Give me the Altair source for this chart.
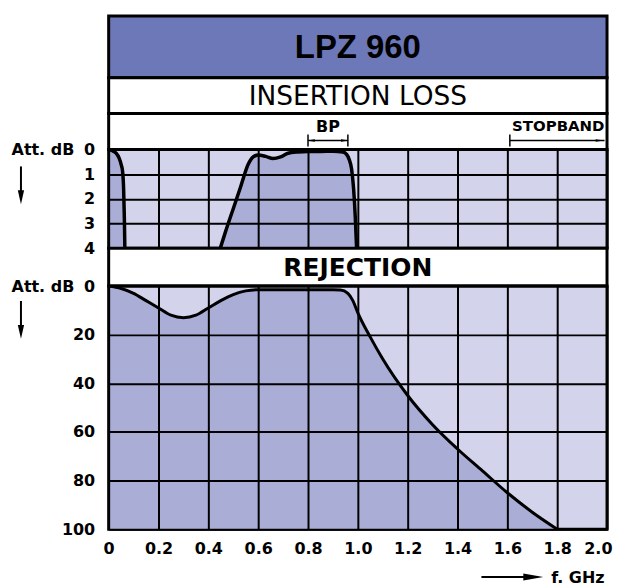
import altair as alt
import pandas as pd

FONT = "DejaVu Sans"
TFONT = "Liberation Sans"

title_text = ["LPZ 960"]
il_text = ["INSERTION LOSS"]
rej_text = ["REJECTION"]
bp_text = ["BP"]
stop_text = ["STOPBAND"]

# Annotation frequencies (GHz)
bp_range = [0.80, 0.96]
stop_range = [1.61, 1.99]

# Axis ticks
x_ticks = [0, 0.2, 0.4, 0.6, 0.8, 1.0, 1.2, 1.4, 1.6, 1.8, 2.0]
il_ticks = [0, 1, 2, 3, 4]
rej_ticks = [0, 20, 40, 60, 80, 100]

# Insertion loss (dB), two visible segments
il_low_f = [0, 0.015, 0.03, 0.042, 0.05, 0.056, 0.06, 0.063, 0.065]
il_low_db = [0, 0.05, 0.15, 0.35, 0.6, 0.9, 1.6, 2.8, 4.0]
il_bp_f = [0.448, 0.47, 0.5, 0.53, 0.56, 0.58, 0.6, 0.63, 0.66, 0.69, 0.72, 0.76,
           0.8, 0.85, 0.9, 0.94, 0.955, 0.965, 0.975, 0.983, 0.99, 0.995]
il_bp_db = [4.0, 3.3, 2.4, 1.5, 0.6, 0.3, 0.22, 0.28, 0.37, 0.3, 0.15, 0.1,
            0.08, 0.08, 0.07, 0.1, 0.2, 0.4, 0.8, 1.6, 2.8, 4.0]

# Rejection (dB)
rej_f = [0, 0.05, 0.1, 0.15, 0.2, 0.25, 0.3, 0.35, 0.4, 0.45, 0.5, 0.55, 0.6, 0.7,
         0.8, 0.9, 0.93, 0.96, 0.98, 1.0, 1.05, 1.1, 1.2, 1.3, 1.4, 1.5, 1.6, 1.7, 1.8]
rej_db = [0, 1, 3, 6, 9, 12, 13, 12, 9, 6, 3.5, 2, 1.5, 1.5,
          1.5, 1.5, 1.6, 3, 6, 11, 21, 30, 45, 57, 67, 76, 85, 93, 100]

DARK = "#aaaed7"
LIGHT = "#d3d4ec"
TITLE_BG = "#6c78b8"
W = 500
XT_Y = 48  # offset of the frequency-axis caption below the plot

il_df = pd.DataFrame({
    "f": il_low_f + il_bp_f,
    "dB": il_low_db + il_bp_db,
    "seg": ["a"] * len(il_low_f) + ["b"] * len(il_bp_f),
})
rej_df = pd.DataFrame({"f": rej_f, "dB": rej_db})
one = pd.DataFrame({"k": [0]})

xscale = alt.Scale(domain=[0, 2], nice=False)
frame = dict(stroke="black", strokeWidth=3)


def band(label, h, y, size, weight, font, fill="white", color="black"):
    return alt.Chart(pd.DataFrame({"t": label})).mark_text(
        font=font, fontSize=size, fontWeight=weight, color=color,
        align="center", baseline="middle"
    ).encode(
        text="t:N", x=alt.value(W / 2), y=alt.value(y)
    ).properties(width=W, height=h, view=alt.ViewBackground(fill=fill, **frame))


title_panel = band(title_text, 62, 32, 33, "bold", TFONT, fill=TITLE_BG)
il_label_panel = band(il_text, 36, 19, 26.5, "normal", FONT)
rej_label_panel = band(rej_text, 38, 20, 25, "bold", FONT)

# BP / STOPBAND annotation band
bp_df = pd.DataFrame({"f": [sum(bp_range) / 2], "t": bp_text})
stop_df = pd.DataFrame({"f": [stop_range[1]], "t": stop_text})
bp_txt = alt.Chart(bp_df).mark_text(font=FONT, fontSize=16, fontWeight="bold",
                                    baseline="middle").encode(
    x=alt.X("f:Q", scale=xscale, axis=None), y=alt.value(13), text="t:N")
stop_txt = alt.Chart(stop_df).mark_text(font=FONT, fontSize=15, fontWeight="bold",
                                        align="right", baseline="middle").encode(
    x=alt.X("f:Q", scale=xscale, axis=None), y=alt.value(12), text="t:N")
arrows_df = pd.DataFrame({"f1": [bp_range[0], stop_range[0]],
                          "f2": [bp_range[1], stop_range[1]]})
arrow_lines = alt.Chart(arrows_df).mark_rule(color="black", strokeWidth=1.5).encode(
    x=alt.X("f1:Q", scale=xscale, axis=None), x2="f2:Q", y=alt.value(27))
bars_df = pd.DataFrame({"f": [bp_range[0], bp_range[1], stop_range[0]]})
arrow_bars = alt.Chart(bars_df).mark_rule(color="black", strokeWidth=1.5).encode(
    x=alt.X("f:Q", scale=xscale, axis=None), y=alt.value(21), y2=alt.value(33))
heads_df = pd.DataFrame({"f": [bp_range[0] + 0.012, bp_range[1] - 0.012, stop_range[1] - 0.02],
                         "s": ["l", "r", "r"]})
arrow_heads = alt.Chart(heads_df).mark_point(filled=True, color="black", opacity=1,
                                             size=60).encode(
    x=alt.X("f:Q", scale=xscale, axis=None), y=alt.value(27),
    shape=alt.Shape("s:N", scale=alt.Scale(domain=["l", "r"],
                    range=["M-1,0L1,-0.35L1,0.35Z", "M1,0L-1,-0.35L-1,0.35Z"]),
                    legend=None))
bp_panel = alt.layer(bp_txt, stop_txt, arrow_lines, arrow_bars, arrow_heads).properties(
    width=W, height=36, view=alt.ViewBackground(fill="white", **frame))

axis_common = dict(grid=True, gridColor="black", gridWidth=2, gridOpacity=1,
                   ticks=False, domain=False, zindex=1, labelOverlap=False,
                   labelFont=FONT, labelFontSize=16, labelFontWeight="bold",
                   labelColor="black")
ytitle = dict(title="Att. dB", titleAngle=0, titleAlign="right", titleBaseline="middle",
              titleX=-35, titleY=0, titleFont=FONT, titleFontSize=16,
              titleFontWeight="bold", titleColor="black")


def down_arrow(y1, y2):
    line = alt.Chart(one).mark_rule(color="black", strokeWidth=2).encode(
        x=alt.value(-88), y=alt.value(y1), y2=alt.value(y2))
    head = alt.Chart(one).mark_point(filled=True, color="black", opacity=1,
                                     shape="M-0.45,-1L0.45,-1L0,1Z", size=196).encode(
        x=alt.value(-88), y=alt.value(y2))
    return [line, head]


# Insertion loss plot
il_x = alt.X("f:Q", scale=xscale,
             axis=alt.Axis(values=x_ticks, tickCount=len(x_ticks), labels=False,
                           title=None, **axis_common))
il_y = alt.Y("dB:Q", scale=alt.Scale(domain=[0, 4], reverse=True, nice=False),
             axis=alt.Axis(values=il_ticks, tickCount=len(il_ticks), labelPadding=14,
                           **ytitle, **axis_common))
il_area = alt.Chart(il_df).mark_area(color=DARK, opacity=1, interpolate="monotone",
                                     clip=True).encode(
    x=il_x, y=il_y, y2=alt.datum(4), detail="seg:N")
il_line = alt.Chart(il_df).mark_line(color="black", strokeWidth=3.5,
                                     interpolate="monotone", clip=True).encode(
    x="f:Q", y="dB:Q", detail="seg:N")
il_panel = alt.layer(il_area, il_line, *down_arrow(17, 48)).properties(
    width=W, height=99, view=alt.ViewBackground(fill=LIGHT, **frame))

# Rejection plot
last_tick = "datum.value >= 2"
rej_x = alt.X("f:Q", scale=xscale,
              axis=alt.Axis(values=x_ticks, tickCount=len(x_ticks), labelPadding=11,
                            labelFlush=False,
                            labelAlign={"condition": {"test": last_tick, "value": "right"},
                                        "value": "center"},
                            labelOffset={"condition": {"test": last_tick, "value": 5},
                                         "value": 0},
                            labelExpr="datum.value == 0 ? '0' : format(datum.value, '.1f')",
                            title="f.  GHz", titleAlign="right", titleBaseline="middle",
                            titleX=497, titleY=XT_Y, titleFont=FONT, titleFontSize=16,
                            titleFontWeight="bold", titleColor="black", **axis_common))
rej_y = alt.Y("dB:Q", scale=alt.Scale(domain=[0, 100], reverse=True, nice=False),
              axis=alt.Axis(values=rej_ticks, tickCount=len(rej_ticks), labelPadding=14,
                            **ytitle, **axis_common))
rej_area = alt.Chart(rej_df).mark_area(color=DARK, opacity=1, interpolate="monotone",
                                       clip=True).encode(
    x=rej_x, y=rej_y, y2=alt.datum(100))
rej_line = alt.Chart(rej_df).mark_line(color="black", strokeWidth=3,
                                       interpolate="monotone", clip=True).encode(
    x="f:Q", y="dB:Q")
x_arrow_line = alt.Chart(one).mark_rule(color="black", strokeWidth=2).encode(
    x=alt.value(374), x2=alt.value(426), y=alt.value(244 + XT_Y))
x_arrow_head = alt.Chart(one).mark_point(filled=True, color="black", opacity=1,
                                         shape="M1,0L-1,-0.35L-1,0.35Z", size=400).encode(
    x=alt.value(426), y=alt.value(244 + XT_Y))
rej_panel = alt.layer(rej_area, rej_line, *down_arrow(15, 46),
                      x_arrow_line, x_arrow_head).properties(
    width=W, height=244, view=alt.ViewBackground(fill=LIGHT, **frame))

chart = alt.vconcat(
    title_panel, il_label_panel, bp_panel, il_panel, rej_label_panel, rej_panel,
    spacing=0, bounds="flush"
).resolve_scale(x="shared", y="independent", shape="independent").properties(
    padding={"left": 1, "top": 5, "right": 0, "bottom": 0}
).configure(background="white")

chart.save("out.html", embed_options={"renderer": "svg", "actions": False})
